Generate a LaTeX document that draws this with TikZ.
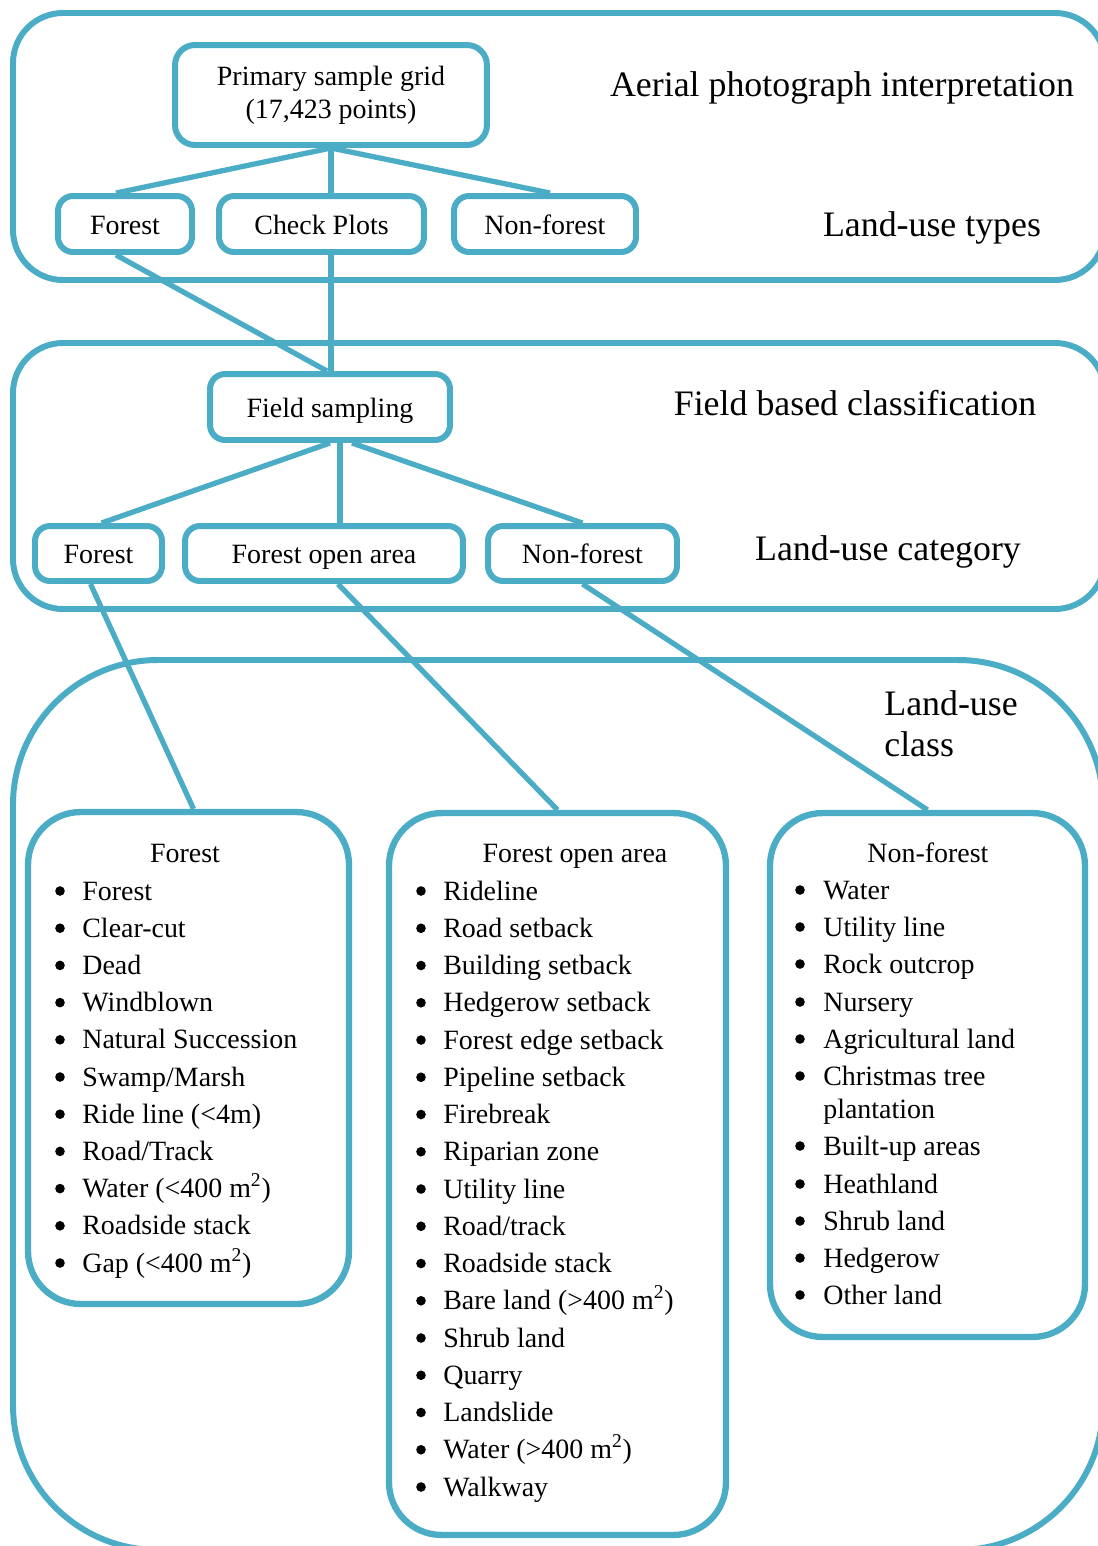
\documentclass[tikz,border=0pt]{standalone}
\usepackage{fontspec}
\setmainfont{Liberation Serif}
\usetikzlibrary{positioning}
\usetikzlibrary{calc}

\definecolor{luline}{RGB}{75,172,198}
\newcommand{\boxfont}{\fontsize{15.9}{18.8}\selectfont}
\newcommand{\headfont}{\fontsize{20.4}{23.3}\selectfont}

\tikzset{
  panel/.style={draw=luline, line width=3.4pt, rounded corners=1cm},
  catbox/.style={draw=luline, line width=3.4pt, rounded corners=0.3cm, inner sep=0pt,
    minimum height=1.12cm, text height=11.4pt, text depth=0pt, font=\boxfont},
  listbox/.style={draw=luline, line width=3.6pt, rounded corners=1.05cm, inner sep=0pt},
  link/.style={draw=luline, line width=3pt},
  heading/.style={font=\headfont, inner sep=0pt},
  item/.style={font=\boxfont, inner sep=0pt, anchor=base west},
  dot/.style={fill=black},
}

\begin{document}
\begin{tikzpicture}[x=0.02cm, y=-0.02cm]

 \useasboundingbox (0,0) rectangle (1098,1546);
 \clip (0,0) rectangle (1098,1546);

 %panels
 \draw[panel] (13,13) rectangle (1105,280);
 \draw[panel] (13,343) rectangle (1105,609);
 \draw[panel, rounded corners=2.9cm] (13,660) rectangle (1103,1550);

 %headings
 \node[heading, anchor=base] (hAerial) at (842,96) {Aerial photograph interpretation};
 \node[heading, anchor=base] (hTypes) at (932,236) {Land-use types};
 \node[heading, anchor=base] (hField) at (855,415) {Field based classification};
 \node[heading, anchor=base] (hCat) at (888,560) {Land-use category};
 \node[heading, anchor=north west, align=left] (hClass) at (884,690) {Land-use\\class};

 %level 1
 \node[catbox, minimum width=6.24cm, minimum height=2cm, rounded corners=0.4cm, align=center,
   text height=, text depth=] (prim) at (331,95) {Primary sample grid\\(17,423 points)};
 \node[catbox, minimum width=2.68cm] (forA) at (125,224) {Forest};
 \node[catbox, minimum width=4.1cm] (check) at (321.5,224) {Check Plots};
 \node[catbox, minimum width=3.64cm] (nonA) at (545,224) {Non-forest};

 \draw[link] (prim.south) -- ([xshift=-0.18cm]forA.north);
 \draw[link] (prim.south) -- (prim.south |- check.north);
 \draw[link] (prim.south) -- ([xshift=0.1cm]nonA.north);

 %level 2
 \node[catbox, minimum width=4.8cm, minimum height=1.32cm] (field) at (330,407) {Field sampling};
 \node[catbox, minimum width=2.54cm, minimum height=1.1cm] (forB) at (98.5,553.5) {Forest};
 \node[catbox, minimum width=5.56cm, minimum height=1.1cm] (openB) at (324,553.5) {Forest open area};
 \node[catbox, minimum width=3.78cm, minimum height=1.1cm] (nonB) at (582.5,553.5) {Non-forest};

 \draw[link] ([xshift=-0.18cm]forA.south) -- ([xshift=-0.06cm]field.north);
 \draw[link] (prim.south |- check.south) -- (prim.south |- field.north);
 \draw[link] (field.south) -- ([xshift=0.06cm]forB.north);
 \draw[link] ([xshift=0.2cm]field.south) -- ([xshift=0.2cm]field.south |- openB.north);
 \draw[link] ([xshift=0.44cm]field.south) -- (nonB.north);

 %level 3
 \node[listbox, minimum width=6.42cm, minimum height=9.84cm] (forC) at (188.5,1058) {};
 \node[listbox, minimum width=6.74cm, minimum height=14.44cm] (openC) at (557.5,1174) {};
 \node[listbox, minimum width=6.3cm, minimum height=10.48cm] (nonC) at (927.5,1075) {};

 \draw[link] ([xshift=-0.16cm]forB.south) -- ([xshift=0.1cm]forC.north);
 \draw[link] ([xshift=0.28cm]openB.south) -- (openC.north);
 \draw[link] (nonB.south) -- (nonC.north);

 %lists
 \node[item, anchor=base] (forT) at (185,862) {Forest};
 \foreach \name [count=\i from 0] in {Forest, Clear-cut, Dead, Windblown, Natural Succession,
     Swamp/Marsh, Ride line (<4m), Road/Track, {Water (<400 m\textsuperscript{2})},
     Roadside stack, {Gap (<400 m\textsuperscript{2})}} {
   \fill[dot] (60, 891 + 37.2*\i) circle [radius=4.8];
   \node[item] (forI\i) at (82, 900 + 37.2*\i) {\name};
 }

 \node[item, anchor=base] (openT) at (575,862) {Forest open area};
 \foreach \name [count=\i from 0] in {Rideline, Road setback, Building setback, Hedgerow setback,
     Forest edge setback, Pipeline setback, Firebreak, Riparian zone, Utility line, Road/track,
     Roadside stack, {Bare land (>400 m\textsuperscript{2})}, Shrub land, Quarry, Landslide,
     {Water (>400 m\textsuperscript{2})}, Walkway} {
   \fill[dot] (421, 891 + 37.25*\i) circle [radius=4.8];
   \node[item] (openI\i) at (443, 900 + 37.25*\i) {\name};
 }

 \node[item, anchor=base] (nonT) at (928,862) {Non-forest};
 \foreach \y/\name [count=\i from 0] in {899/Water, 936/Utility line, 973/Rock outcrop, 1011/Nursery,
     1048/Agricultural land, 1085/{\begin{tabular}[t]{@{}l@{}}Christmas tree\\plantation\end{tabular}},
     1155/Built-up areas, 1193/Heathland, 1230/Shrub land, 1267/Hedgerow, 1304/Other land} {
   \fill[dot] (800, \y - 9) circle [radius=4.8];
   \node[item] (nonI\i) at (823, \y) {\name};
 }

\end{tikzpicture}
\end{document}
